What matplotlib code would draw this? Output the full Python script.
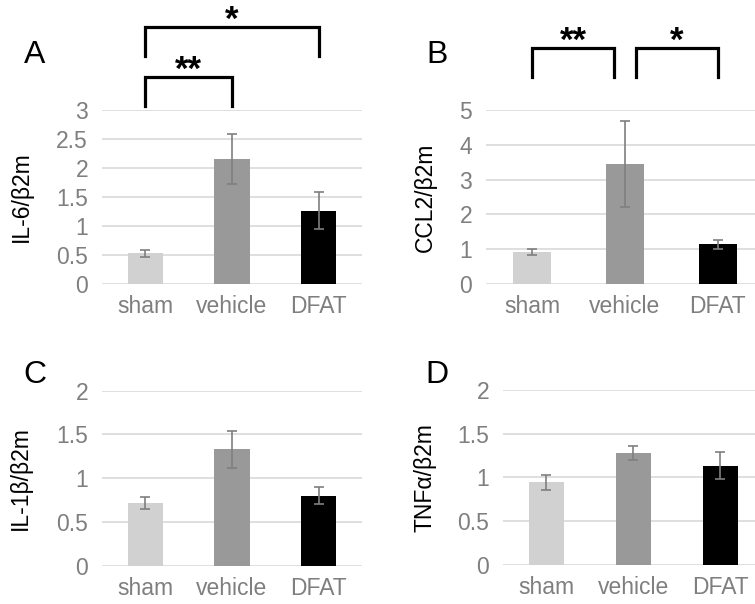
import matplotlib.pyplot as plt

plt.rcParams['font.family'] = ['Liberation Sans', 'DejaVu Sans']

groups = ['sham', 'vehicle', 'DFAT']
colors = ['#d0d1d0', '#999999', '#000000']

il6 = [0.53, 2.16, 1.26]
il6_err = [0.057, 0.43, 0.32]
ccl2 = [0.92, 3.44, 1.14]
ccl2_err = [0.085, 1.23, 0.12]
il1b = [0.72, 1.33, 0.80]
il1b_err = [0.067, 0.21, 0.10]
tnfa = [0.945, 1.28, 1.135]
tnfa_err = [0.088, 0.078, 0.155]

# significance brackets: (from, to, label, bracket top, leg bottom) in data units
brackets_a = [(0, 1, '**', 3.57, 3.07), (0, 2, '*', 4.43, 3.93)]
brackets_b = [(0, 0.88, '**', 6.78, 5.95), (1.12, 2, '*', 6.78, 5.95)]

panels = [
    # letter, values, errors, ylabel, ymax, ystep, axes rect, label x, letter pos, brackets
    ('A', il6, il6_err, 'IL-6/β2m', 3, 0.5, [0.1351, 0.5298, 0.3444, 0.2881], -0.265, (0.046, 0.909), brackets_a),
    ('B', ccl2, ccl2_err, 'CCL2/β2m', 5, 1, [0.6437, 0.5298, 0.3682, 0.2881], -0.176, (0.579, 0.909), brackets_b),
    ('C', il1b, il1b_err, 'IL-1β/β2m', 2, 0.5, [0.1351, 0.0634, 0.3444, 0.2897], -0.27, (0.046, 0.379), []),
    ('D', tnfa, tnfa_err, 'TNFα/β2m', 2, 0.5, [0.6662, 0.0646, 0.3457, 0.2897], -0.253, (0.579, 0.379), []),
]

fig = plt.figure(figsize=(7.55, 6.04), dpi=100)

for letter, vals, errs, ylab, ymax, ystep, rect, lx, lpos, brs in panels:
    ax = fig.add_axes(rect)
    x = range(len(groups))
    ax.bar(x, vals, width=0.41, color=colors, zorder=3)
    ax.errorbar(x, vals, yerr=errs, fmt='none', ecolor='#7f7f7f',
                elinewidth=1.2, capsize=3.5, capthick=1.2, zorder=4)
    ax.set_xlim(-0.5, 2.5)
    ax.set_ylim(0, ymax)
    ticks = [i * ystep for i in range(int(round(ymax / ystep)) + 1)]
    ax.set_yticks(ticks)
    ax.set_yticklabels([('%g' % t) for t in ticks])
    ax.set_xticks(list(x))
    ax.set_xticklabels(groups)
    ax.grid(axis='y', color='#d9d9d9', linewidth=1.2, zorder=0)
    for s in ax.spines.values():
        s.set_visible(False)
    ax.tick_params(axis='both', length=0, labelsize=16.5, labelcolor='#7f7f7f')
    ax.tick_params(axis='y', pad=10)
    ax.tick_params(axis='x', pad=8)
    ax.set_ylabel(ylab, fontsize=16.5)
    ax.yaxis.set_label_coords(lx, 0.5)
    fig.text(lpos[0], lpos[1], letter, fontsize=23, ha='center', va='center')

    for i, j, lab, top, bot in brs:
        ax.plot([i, i, j, j], [bot, top, top, bot], color='black', linewidth=2.3,
                clip_on=False, solid_joinstyle='miter')
        ax.annotate(lab, xy=((i + j) / 2, top), xytext=(0, -2),
                    textcoords='offset points', ha='center', va='baseline',
                    fontsize=25, fontweight='bold', annotation_clip=False)

fig.savefig('out.png', dpi=100)
